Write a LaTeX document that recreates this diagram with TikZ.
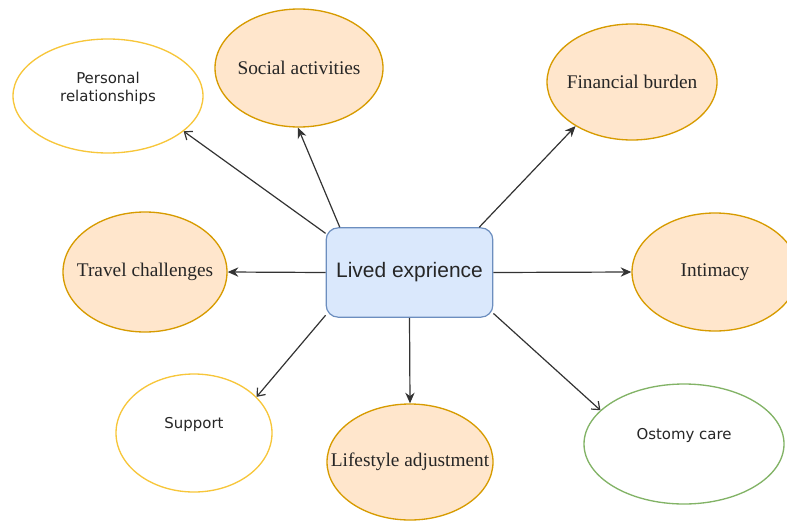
\documentclass[tikz,border=0pt]{standalone}
\usepackage{fontspec}
\setmainfont{Liberation Serif}
\newfontfamily\dejafont{DejaVu Sans}
\newfontfamily\arialfont{Liberation Sans}
\usetikzlibrary{shapes.geometric,arrows.meta}

\definecolor{peach}{HTML}{FFE6CC}
\definecolor{peachline}{HTML}{D79B00}
\definecolor{sunline}{HTML}{F7C63A}
\definecolor{leafline}{HTML}{82B366}
\definecolor{skyfill}{HTML}{DAE8FC}
\definecolor{skyline}{HTML}{6C8EBF}

\tikzstyle{centrebox} = [rectangle, rounded corners=9pt, draw=skyline, fill=skyfill, line width=0.9pt, minimum width=125pt, minimum height=67pt, font=\arialfont\fontsize{15.7}{19}\selectfont, text=black!85]
\tikzstyle{mainoval} = [ellipse, draw=peachline, fill=peach, line width=1pt, inner sep=0pt]
\tikzstyle{maintext} = [font=\fontsize{14.5}{17}\selectfont, text=black!85]
\tikzstyle{sideoval} = [ellipse, draw=sunline, fill=white, line width=1pt, inner sep=0pt]
\tikzstyle{sidetext} = [font=\dejafont\fontsize{11.2}{13.5}\selectfont, text=black!85, align=center, yshift=6pt]
\tikzstyle{solidarrow} = [line width=0.9pt, draw=black!80, -{Stealth[length=8pt,width=7pt]}]
\tikzstyle{openarrow} = [line width=0.9pt, draw=black!80, -{Straight Barb[length=5pt,width=8pt]}]

\begin{document}
\begin{tikzpicture}[x=0.75pt, y=-0.75pt]
\useasboundingbox (0,0) rectangle (787,521);

\node (hub) [centrebox] at (409.5,272.5) {Lived exprience};

% orange themes
\node (social) [mainoval, minimum width=126pt, minimum height=88.5pt, label={[maintext]center:Social activities}] at (299,68) {};
\node (finance) [mainoval, minimum width=127.5pt, minimum height=87pt, label={[maintext]center:Financial burden}] at (632,82) {};
\node (travel) [mainoval, minimum width=123pt, minimum height=90pt, label={[maintext]center:Travel challenges}] at (145,272) {};
\node (intim) [mainoval, minimum width=124.5pt, minimum height=88.5pt, label={[maintext]center:Intimacy}] at (715,272) {};
\node (life) [mainoval, minimum width=124.5pt, minimum height=87pt, label={[maintext]center:Lifestyle adjustment}] at (410,462) {};

% white themes
\node (pers) [sideoval, minimum width=142.5pt, minimum height=85.5pt, label={[sidetext]center:Personal\\relationships}] at (108,96) {};
\node (support) [sideoval, minimum width=117pt, minimum height=88.5pt, label={[sidetext]center:Support}] at (194,433) {};
\node (ostomy) [sideoval, draw=leafline, minimum width=150pt, minimum height=90pt, label={[sidetext]center:Ostomy care}] at (684,444) {};

%arrows
\draw [openarrow] (hub.155.6) -- (pers.-25);
\draw [solidarrow] (hub.147) -- (social.-91);
\draw [solidarrow] (hub.33) -- (finance.218);
\draw [solidarrow] (hub.west) -- (travel.east);
\draw [solidarrow] (hub.east) -- (intim.west);
\draw [openarrow] (hub.207) -- (support.30);
\draw [solidarrow] (hub.south) -- (life.north);
\draw [openarrow] (hub.-26) -- (ostomy.158);

\end{tikzpicture}
\end{document}
